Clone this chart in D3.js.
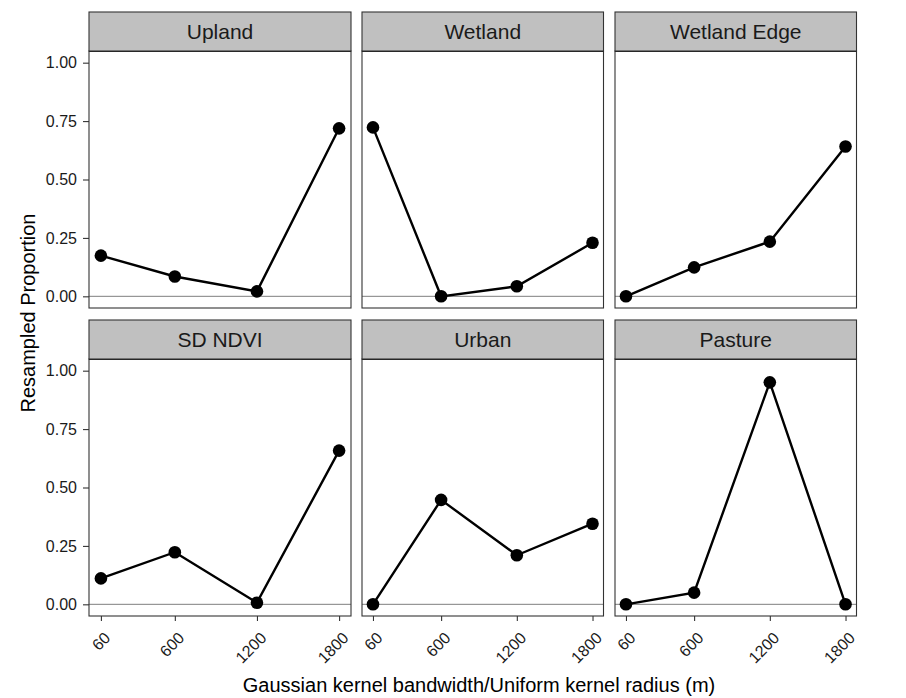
<!DOCTYPE html>
<html>
<head>
<meta charset="utf-8">
<script src="https://cdn.jsdelivr.net/npm/d3@7"></script>
<style>
  body { margin: 0; background: #fff; }
  text { font-family: "Liberation Sans", Arial, sans-serif; }
</style>
</head>
<body>
<svg width="906" height="698"></svg>
<script>
// data
var panels = ["Upland", "Wetland", "Wetland Edge", "SD NDVI", "Urban", "Pasture"];
var bandwidths = [60, 600, 1200, 1800];
var upland = [0.174, 0.085, 0.021, 0.719];
var wetland = [0.723, 0.0, 0.043, 0.229];
var wetlandEdge = [0.0, 0.124, 0.234, 0.641];
var sdNdvi = [0.111, 0.223, 0.007, 0.658];
var urban = [0.0, 0.447, 0.210, 0.345];
var pasture = [0.0, 0.050, 0.950, 0.0];
var yTicks = [0, 0.25, 0.5, 0.75, 1];

var series = [upland, wetland, wetlandEdge, sdNdvi, urban, pasture];

var svg = d3.select("svg");

// facet layout
var colX = [89, 362, 615],
    colW = [262, 241.5, 241.5],
    rowY = [12, 320],
    stripH = 39,
    plotH = 257;

var y = d3.scaleLinear().domain([-0.05, 1.05]);

panels.forEach(function(name, i) {
  var c = i % 3, r = Math.floor(i / 3);
  var left = colX[c], w = colW[c], top = rowY[r] + stripH;

  var x = d3.scaleLinear().domain([60 - 87, 1800 + 87]).range([0, w]);
  y.range([plotH, 0]);

  var g = svg.append("g").attr("transform", "translate(" + left + "," + top + ")");

  // strip
  svg.append("rect")
      .attr("x", left).attr("y", rowY[r])
      .attr("width", w).attr("height", stripH)
      .attr("fill", "#c0c0c0").attr("stroke", "#333").attr("stroke-width", 1.1);
  svg.append("text")
      .attr("x", left + w / 2).attr("y", rowY[r] + stripH / 2 + 7.5)
      .attr("text-anchor", "middle")
      .attr("font-size", 21).attr("fill", "#1a1a1a")
      .text(name);

  // panel background
  g.append("rect").attr("width", w).attr("height", plotH).attr("fill", "#fff");

  // zero line
  g.append("line")
      .attr("x1", 0).attr("x2", w)
      .attr("y1", y(0)).attr("y2", y(0))
      .attr("stroke", "#7f7f7f").attr("stroke-width", 1);

  var data = bandwidths.map(function(b, j) { return {x: b, y: series[i][j]}; });

  g.append("path")
      .datum(data)
      .attr("fill", "none").attr("stroke", "#000").attr("stroke-width", 2.4)
      .attr("d", d3.line().x(function(d) { return x(d.x); }).y(function(d) { return y(d.y); }));

  g.selectAll("circle")
      .data(data)
    .enter().append("circle")
      .attr("cx", function(d) { return x(d.x); })
      .attr("cy", function(d) { return y(d.y); })
      .attr("r", 6.3)
      .attr("fill", "#000");

  // border
  g.append("rect").attr("width", w).attr("height", plotH)
      .attr("fill", "none").attr("stroke", "#333").attr("stroke-width", 1.1);
  g.append("line").attr("x1", 0).attr("x2", w).attr("y1", 0).attr("y2", 0)
      .attr("stroke", "#1a1a1a").attr("stroke-width", 2);

  // y axis (first column only)
  if (c === 0) {
    var ya = g.append("g")
        .call(d3.axisLeft(y).tickValues(yTicks).tickSize(6).tickPadding(6).tickFormat(d3.format(".2f")));
    ya.select(".domain").remove();
    ya.selectAll("line").attr("stroke", "#333").attr("stroke-width", 1.1);
    ya.selectAll("text").attr("font-size", 16).attr("fill", "#1a1a1a")
        .attr("font-family", "Liberation Sans, Arial, sans-serif");
  }

  // x axis (bottom row only)
  if (r === 1) {
    var xa = g.append("g").attr("transform", "translate(0," + plotH + ")")
        .call(d3.axisBottom(x).tickValues(bandwidths).tickSize(5).tickFormat(d3.format("d")));
    xa.select(".domain").remove();
    xa.selectAll("line").attr("stroke", "#333").attr("stroke-width", 1.1);
    xa.selectAll("text")
        .attr("font-size", 16).attr("fill", "#1a1a1a")
        .attr("font-family", "Liberation Sans, Arial, sans-serif")
        .attr("text-anchor", "end")
        .attr("dy", null)
        .attr("y", 0)
        .attr("transform", "translate(10,23) rotate(-45)");
  }
});

// axis titles
svg.append("text")
    .attr("x", 479).attr("y", 692)
    .attr("text-anchor", "middle").attr("font-size", 20).attr("fill", "#000")
    .text("Gaussian kernel bandwidth/Uniform kernel radius (m)");

svg.append("text")
    .attr("transform", "translate(35,313) rotate(-90)")
    .attr("text-anchor", "middle").attr("font-size", 20).attr("fill", "#000")
    .text("Resampled Proportion");
</script>
</body>
</html>
